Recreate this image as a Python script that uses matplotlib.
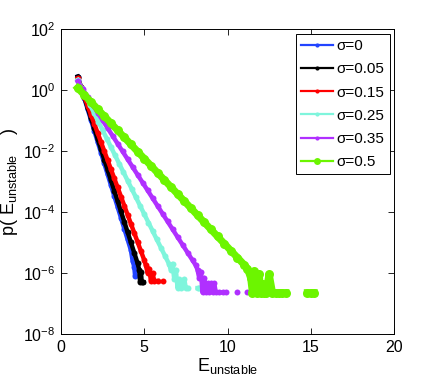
import matplotlib
matplotlib.use('Agg')
import matplotlib.pyplot as plt
from matplotlib.lines import Line2D
import numpy as np

nan = np.nan

# Datos (E_unstable, p)
sigmas = ['0', '0.05', '0.15', '0.25', '0.35', '0.5']
colores = ['#2244ff', '#000000', '#ff0000', '#7ff5dc', '#b030ff', '#6cf500']

x_s0 = [1.0, 1.2, 1.4, 1.6, 1.8, 2.0, 2.2, 2.4, 2.6, 2.8, 3.0, 3.2, 3.4, 3.6,
        3.8, 4.0, 4.2, 4.3, 4.4, 4.45, 4.5]
y_s0 = [2.75, 1.21, 0.535, 0.235, 0.104, 0.0457, 0.0201, 8.87e-3, 3.91e-3,
        1.72e-3, 7.59e-4, 3.34e-4, 1.47e-4, 6.49e-5, 2.86e-5, 1.26e-5,
        5.55e-6, 2.5e-6, 1.6e-6, 8e-7, 1.8e-6]

x_s005 = [1.0, 1.2, 1.4, 1.6, 1.8, 2.0, 2.2, 2.4, 2.6, 2.8, 3.0, 3.2, 3.4, 3.6,
          3.8, 4.0, 4.2, 4.4, 4.6, 4.7, 4.75, 4.8, 4.85, 4.95]
y_s005 = [2.75, 1.26, 0.575, 0.263, 0.120, 0.0550, 0.0251, 0.0115, 5.25e-3,
          2.40e-3, 1.10e-3, 5.01e-4, 2.29e-4, 1.05e-4, 4.79e-5, 2.19e-5,
          1.0e-5, 4.57e-6, 2.09e-6, 1.26e-6, 5.0e-7, 1.1e-6, 5.0e-7, 5.0e-7]

x_s015 = [1.0, 1.2, 1.4, 1.6, 1.8, 2.0, 2.2, 2.4, 2.6, 2.8, 3.0, 3.2, 3.4, 3.6,
          3.8, 4.0, 4.2, 4.4, 4.6, 4.8, 5.0, 5.1, 5.2, 5.3, 5.4, 5.5, 5.6,
          5.8, 6.0, 6.15]
y_s015 = [2.40, 1.21, 0.608, 0.306, 0.154, 0.0776, 0.0391, 0.0197, 9.91e-3,
          4.99e-3, 2.51e-3, 1.26e-3, 6.37e-4, 3.21e-4, 1.61e-4, 8.13e-5,
          4.09e-5, 2.06e-5, 1.04e-5, 5.22e-6, 2.63e-6, 1.78e-6, 1.0e-6,
          1.4e-6, 5.5e-7, 1.0e-6, 5.5e-7, 5.5e-7, nan, 5.5e-7]

x_s025 = [1.0, 1.25, 1.5, 1.75, 2.0, 2.25, 2.5, 2.75, 3.0, 3.25, 3.5, 3.75,
          4.0, 4.25, 4.5, 4.75, 5.0, 5.25, 5.5, 5.75, 6.0, 6.25, 6.5, 6.6,
          6.7, 6.8, 6.9, 7.0, 7.1, 7.2, 7.4, 7.5, 7.6, 7.9, 8.2, 8.3]
y_s025 = [2.14, 1.13, 0.603, 0.320, 0.170, 0.0902, 0.0479, 0.0254, 0.0135,
          7.16e-3, 3.80e-3, 2.02e-3, 1.07e-3, 5.69e-4, 3.02e-4, 1.60e-4,
          8.51e-5, 4.52e-5, 2.40e-5, 1.27e-5, 6.76e-6, 3.59e-6, 1.91e-6,
          1.26e-6, 2.0e-6, 6.3e-7, 1.26e-6, 3.2e-7, 6.3e-7, 3.2e-7, 6.3e-7,
          3.2e-7, 3.2e-7, nan, 3.2e-7, 3.2e-7]

x_s035 = [1.0, 1.3, 1.6, 1.9, 2.2, 2.5, 2.8, 3.1, 3.4, 3.7, 4.0, 4.3, 4.6,
          4.9, 5.2, 5.5, 5.8, 6.1, 6.4, 6.7, 7.0, 7.3, 7.6, 7.9, 8.1, 8.2,
          8.3, 8.4, 8.5, 8.6, 8.7, 8.8, 8.9, 9.0, 9.1, 9.2, 9.3, 9.5, 9.7,
          9.9, 10.2, 10.6, 10.9, 11.2]
y_s035 = [1.91, 1.06, 0.589, 0.327, 0.182, 0.101, 0.0562, 0.0313, 0.0174,
          9.66e-3, 5.37e-3, 2.99e-3, 1.66e-3, 9.23e-4, 5.13e-4, 2.85e-4,
          1.58e-4, 8.81e-5, 4.90e-5, 2.72e-5, 1.51e-5, 8.41e-6, 4.68e-6,
          2.60e-6, 1.76e-6, 1.26e-6, 6.9e-7, 1.1e-6, 2.3e-7, 6.9e-7, 2.3e-7,
          4.6e-7, 2.3e-7, 4.6e-7, 2.3e-7, 4.6e-7, 2.3e-7, 2.3e-7, 2.3e-7,
          2.3e-7, nan, 2.3e-7, nan, 2.3e-7]

x_s05 = [1.0, 1.4, 1.8, 2.2, 2.6, 3.0, 3.4, 3.8, 4.2, 4.6, 5.0, 5.4, 5.8,
         6.2, 6.6, 7.0, 7.4, 7.8, 8.2, 8.6, 9.0, 9.4, 9.8, 10.2, 10.6, 11.0,
         11.2, 11.4, 11.5, 11.6, 11.7, 11.8, 11.9, 12.0, 12.1, 12.2, 12.3,
         12.5, 12.7, 12.9, 13.1, 13.3, 13.5, 14.0, 14.8, 15.0, 15.2]
y_s05 = [1.17, 0.689, 0.404, 0.237, 0.139, 0.0813, 0.0476, 0.0279, 0.0164,
         9.59e-3, 5.62e-3, 3.30e-3, 1.93e-3, 1.13e-3, 6.64e-4, 3.89e-4,
         2.28e-4, 1.34e-4, 7.83e-5, 4.59e-5, 2.69e-5, 1.58e-5, 9.25e-6,
         5.42e-6, 3.18e-6, 1.86e-6, 1.4e-6, 6.7e-7, 2.24e-7, 1.12e-6,
         4.48e-7, 2.24e-7, 9.0e-7, 2.24e-7, 4.48e-7, 2.24e-7, 2.24e-7,
         9.0e-7, 2.24e-7, 2.24e-7, 2.24e-7, 2.24e-7, 2.24e-7, nan, 2.24e-7,
         2.24e-7, 2.24e-7]

series_x = [x_s0, x_s005, x_s015, x_s025, x_s035, x_s05]
series_y = [y_s0, y_s005, y_s015, y_s025, y_s035, y_s05]

plt.rcParams['font.family'] = ['Liberation Sans', 'DejaVu Sans']
plt.rcParams['mathtext.default'] = 'regular'

fig = plt.figure(figsize=(4.36, 3.82), dpi=100)
ax = fig.add_axes([0.1399, 0.1257, 0.7638, 0.7984])

handles = []
for i, (xs, ys) in enumerate(zip(series_x, series_y)):
    grande = (i == 5)
    ax.semilogy(xs, ys, '-o', color=colores[i],
                lw=5.2 if grande else 3.2,
                ms=6.5 if grande else 4.3, mew=0)
    handles.append(Line2D([], [], color=colores[i], lw=1.6, marker='o',
                          ms=5 if grande else 3, mew=0))

ax.set_xlim(0, 20)
ax.set_ylim(1e-8, 1e2)
ax.set_xticks([0, 5, 10, 15, 20])
ax.set_yticks([1e-8, 1e-6, 1e-4, 1e-2, 1e0, 1e2])
ax.yaxis.set_minor_locator(matplotlib.ticker.NullLocator())
ax.tick_params(direction='in', length=4, width=0.6, labelsize=11.5,
               top=True, right=True, pad=4)
for s in ax.spines.values():
    s.set_linewidth(0.7)

ax.set_xlabel('E$_{unstable}$', fontsize=13, labelpad=1)
ax.set_ylabel('p( E$_{unstable}$    )', fontsize=13, labelpad=2)

leg = ax.legend(handles, ['σ=' + s for s in sigmas], loc='upper right',
                bbox_to_anchor=(0.988, 0.984), fontsize=11, fancybox=False,
                edgecolor='black', framealpha=1, handlelength=2.1,
                labelspacing=0.6, borderpad=0.35, handletextpad=0.25,
                borderaxespad=0)
leg.get_frame().set_linewidth(0.7)

fig.savefig('out.png', dpi=100)
